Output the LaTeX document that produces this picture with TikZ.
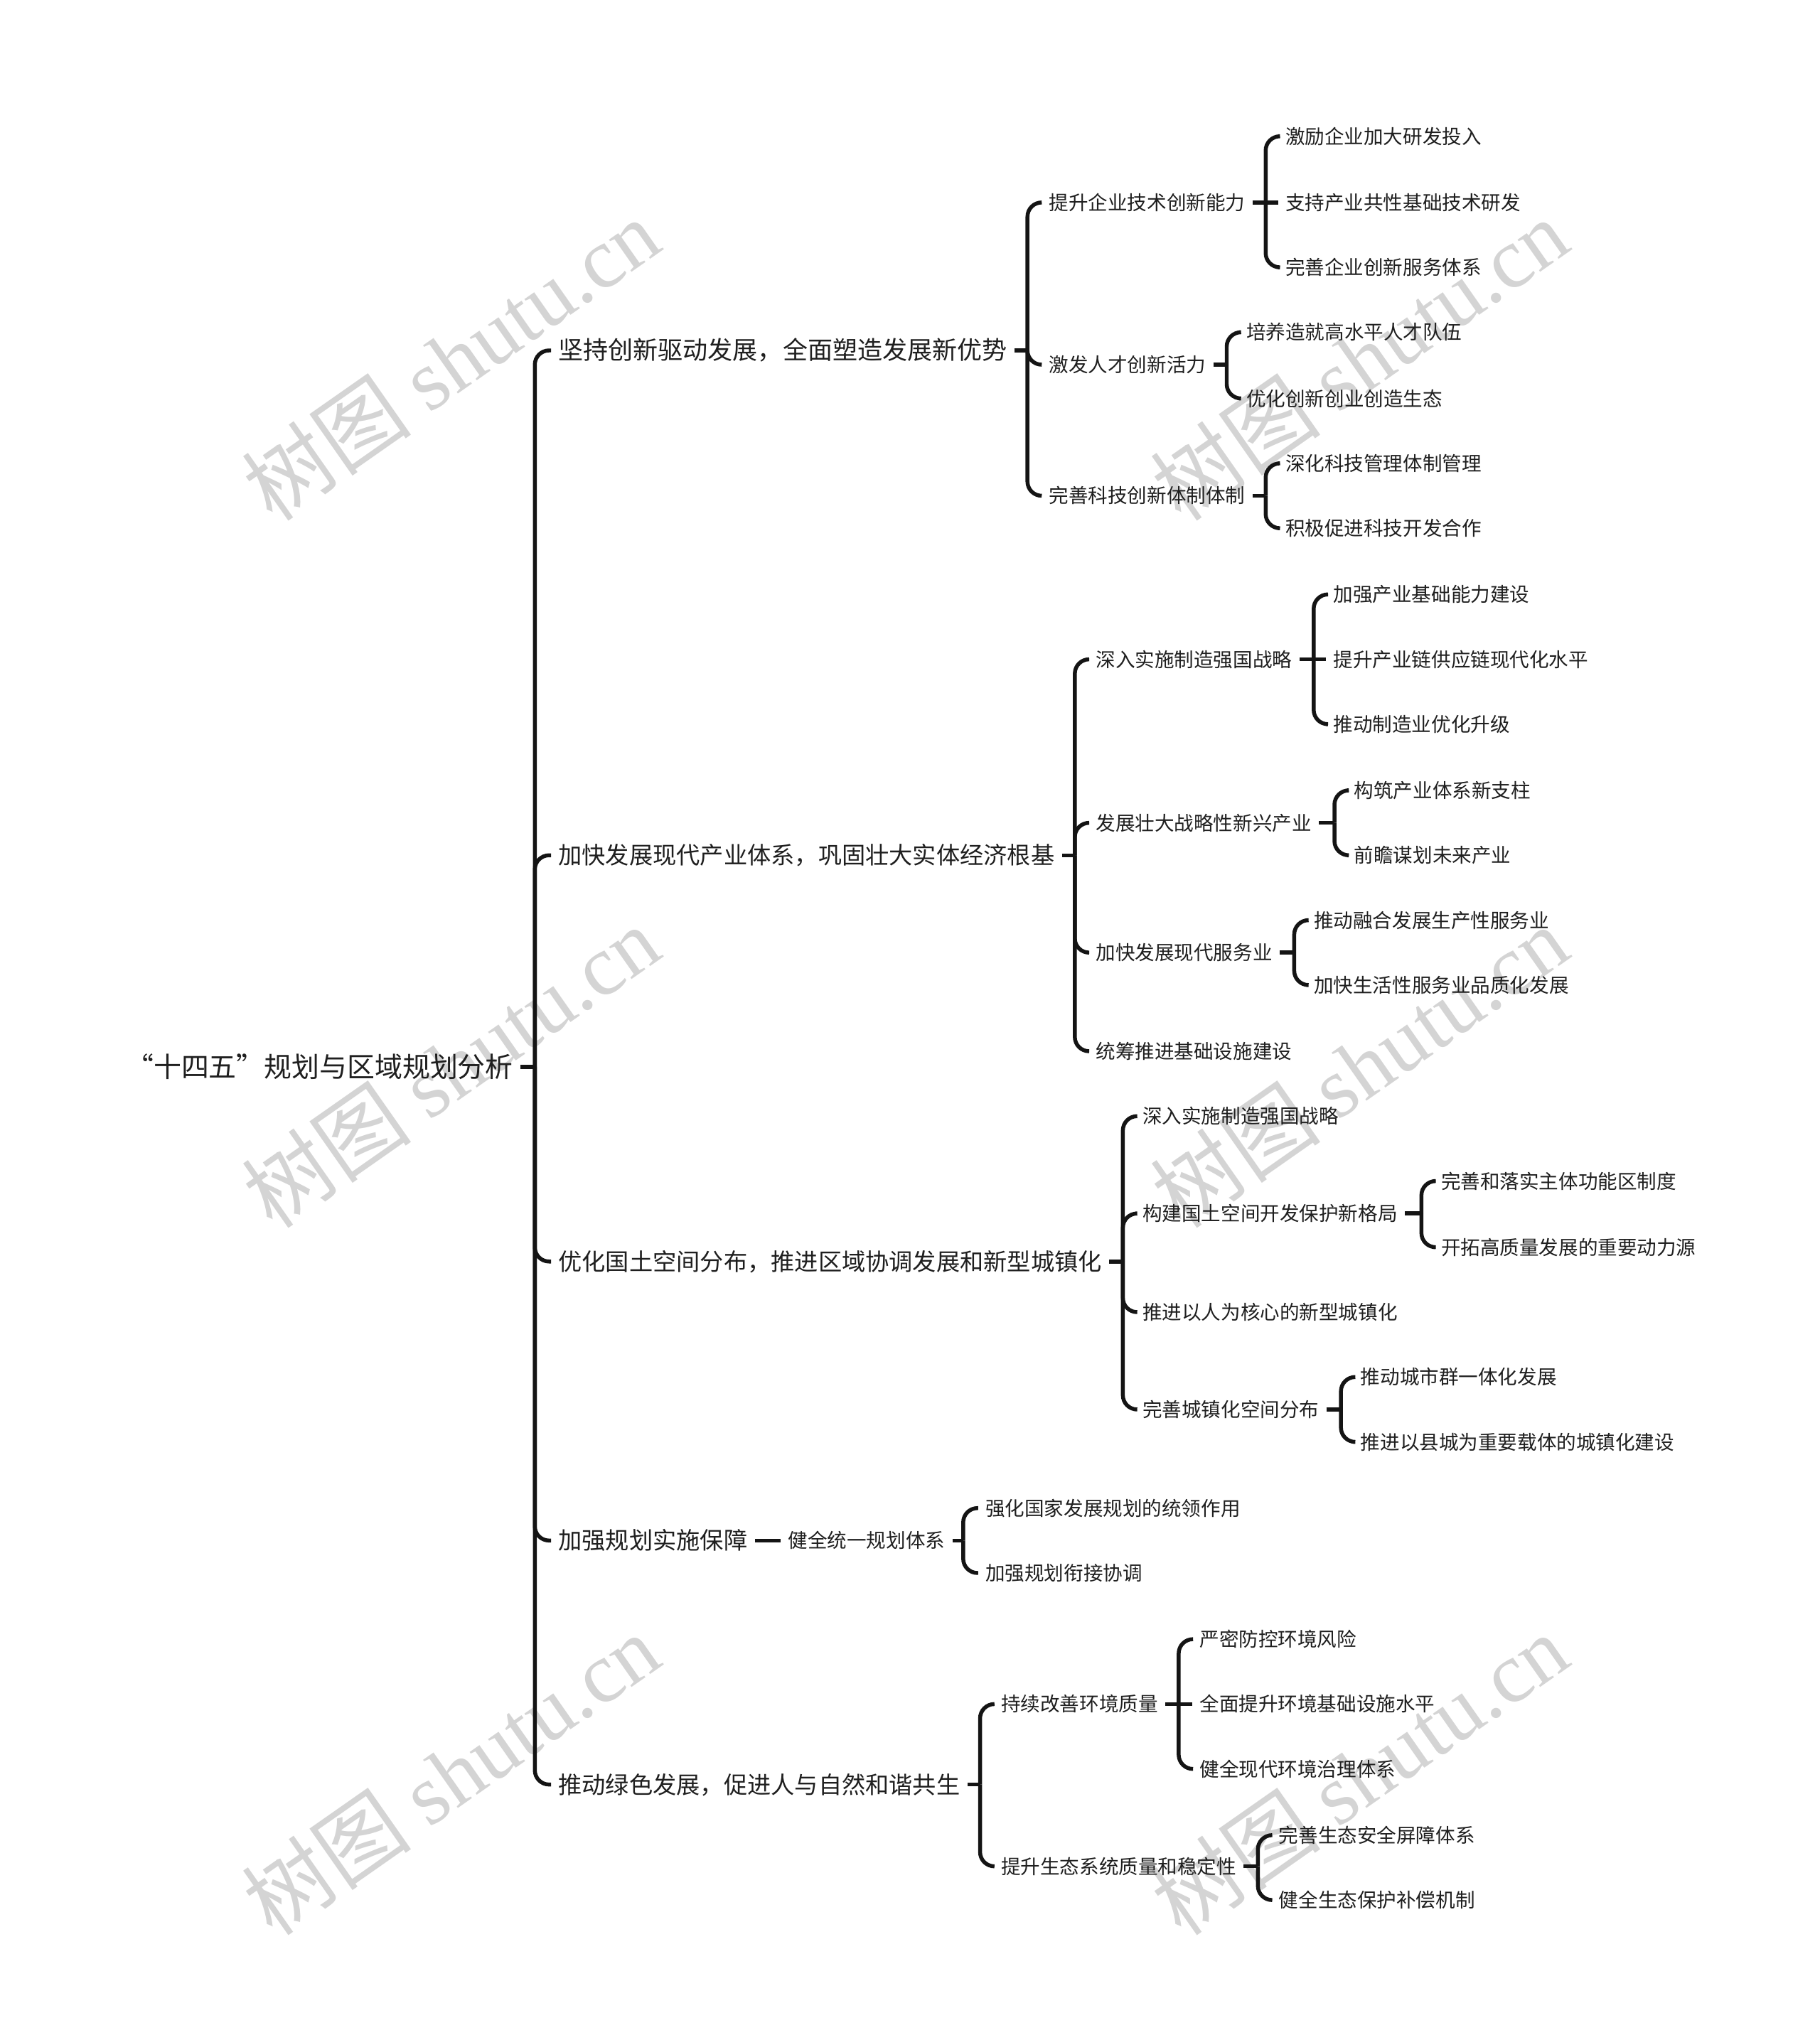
\documentclass[tikz,border=0pt]{standalone}
\usepackage{fontspec}
\setmainfont{Noto Sans CJK SC}
\newfontfamily\wmlat{Liberation Serif}
\begin{document}
\begin{tikzpicture}[x=1pt,y=-1pt,
  txt/.style={anchor=west, inner xsep=5.5pt, inner ysep=0pt, text=black!88},
  lvone/.style={txt, font=\fontsize{18.2}{20}\selectfont, text height=16pt, text depth=2.2pt},
  lvtwo/.style={txt, font=\fontsize{15.1}{17}\selectfont, text height=13.3pt, text depth=1.8pt},
  rootnode/.style={anchor=east, inner xsep=5.5pt, inner ysep=0pt, text=black!88, font=\fontsize{21.3}{23}\selectfont, text height=18.5pt, text depth=2.5pt},
  link/.style={line width=3pt, draw=black!92, rounded corners=11pt},
  wm/.style={text=black!17, font=\fontsize{66}{68}\selectfont, rotate=35, inner sep=0pt}]
\fill[white] (0,0) rectangle (1402,1568);
\useasboundingbox (0,0) rectangle (1402,1568);
% watermarks
\foreach \wx/\wy [count=\i] in {347/277,1047/277,347/822,1047/822,347/1367,1047/1367}
  \node[wm] (wm\i) at (\wx,\wy) {树图 {\wmlat shutu.cn}};
% root
\node[rootnode] (root) at (401,822) {“十四五”规划与区域规划分析};
\coordinate (k0) at (412,822);
\draw[link] (root.east) -- (k0);
% level 1
\node[lvone, font=\fontsize{19.2}{21}\selectfont] (a1) at (424.5,270) {坚持创新驱动发展，全面塑造发展新优势};
\node[lvone] (a2) at (424.5,659) {加快发展现代产业体系，巩固壮大实体经济根基};
\node[lvone] (a3) at (424.5,972) {优化国土空间分布，推进区域协调发展和新型城镇化};
\node[lvone] (a4) at (424.5,1187) {加强规划实施保障};
\node[lvone] (a5) at (424.5,1375) {推动绿色发展，促进人与自然和谐共生};
\foreach \n in {a1,a2,a3,a4,a5} \draw[link] (k0) |- (\n.west);
% branch 1
\coordinate (k1) at (791.5,270);
\draw[link] (a1.east) -- (k1);
\node[lvtwo] (b11) at (802.5,156) {提升企业技术创新能力};
\node[lvtwo] (b12) at (802.5,281) {激发人才创新活力};
\node[lvtwo] (b13) at (802.5,382) {完善科技创新体制体制};
\foreach \n in {b11,b12,b13} \draw[link] (k1) |- (\n.west);
\coordinate (k11) at (975,156);
\draw[link] (b11.east) -- (k11);
\node[lvtwo] (c111) at (984.5,105) {激励企业加大研发投入};
\node[lvtwo] (c112) at (984.5,156) {支持产业共性基础技术研发};
\node[lvtwo] (c113) at (984.5,206) {完善企业创新服务体系};
\draw[link] (k11) |- (c111.west);
\draw[link] (k11) -- (c112.west);
\draw[link] (k11) |- (c113.west);
\coordinate (k12) at (945,281);
\draw[link] (b12.east) -- (k12);
\node[lvtwo] (c121) at (954.5,256) {培养造就高水平人才队伍};
\node[lvtwo] (c122) at (954.5,307) {优化创新创业创造生态};
\draw[link] (k12) |- (c121.west);
\draw[link] (k12) |- (c122.west);
\coordinate (k13) at (975,382);
\draw[link] (b13.east) -- (k13);
\node[lvtwo] (c131) at (984.5,357) {深化科技管理体制管理};
\node[lvtwo] (c132) at (984.5,407) {积极促进科技开发合作};
\draw[link] (k13) |- (c131.west);
\draw[link] (k13) |- (c132.west);
% branch 2
\coordinate (k2) at (828,659);
\draw[link] (a2.east) -- (k2);
\node[lvtwo] (b21) at (838.5,508) {深入实施制造强国战略};
\node[lvtwo] (b22) at (838.5,634) {发展壮大战略性新兴产业};
\node[lvtwo] (b23) at (838.5,734) {加快发展现代服务业};
\node[lvtwo] (b24) at (838.5,810) {统筹推进基础设施建设};
\foreach \n in {b21,b22,b23,b24} \draw[link] (k2) |- (\n.west);
\coordinate (k21) at (1012,508);
\draw[link] (b21.east) -- (k21);
\node[lvtwo] (c211) at (1021.5,458) {加强产业基础能力建设};
\node[lvtwo] (c212) at (1021.5,508) {提升产业链供应链现代化水平};
\node[lvtwo] (c213) at (1021.5,558) {推动制造业优化升级};
\draw[link] (k21) |- (c211.west);
\draw[link] (k21) -- (c212.west);
\draw[link] (k21) |- (c213.west);
\coordinate (k22) at (1028,634);
\draw[link] (b22.east) -- (k22);
\node[lvtwo] (c221) at (1037.5,609) {构筑产业体系新支柱};
\node[lvtwo] (c222) at (1037.5,659) {前瞻谋划未来产业};
\draw[link] (k22) |- (c221.west);
\draw[link] (k22) |- (c222.west);
\coordinate (k23) at (997,734);
\draw[link] (b23.east) -- (k23);
\node[lvtwo] (c231) at (1006.5,709) {推动融合发展生产性服务业};
\node[lvtwo] (c232) at (1006.5,759) {加快生活性服务业品质化发展};
\draw[link] (k23) |- (c231.west);
\draw[link] (k23) |- (c232.west);
% branch 3
\coordinate (k3) at (865,972);
\draw[link] (a3.east) -- (k3);
\node[lvtwo] (b31) at (874.5,860) {深入实施制造强国战略};
\node[lvtwo] (b32) at (874.5,935) {构建国土空间开发保护新格局};
\node[lvtwo] (b33) at (874.5,1011) {推进以人为核心的新型城镇化};
\node[lvtwo] (b34) at (874.5,1086) {完善城镇化空间分布};
\foreach \n in {b31,b32,b33,b34} \draw[link] (k3) |- (\n.west);
\coordinate (k32) at (1095,935);
\draw[link] (b32.east) -- (k32);
\node[lvtwo] (c321) at (1104.5,910) {完善和落实主体功能区制度};
\node[lvtwo] (c322) at (1104.5,961) {开拓高质量发展的重要动力源};
\draw[link] (k32) |- (c321.west);
\draw[link] (k32) |- (c322.west);
\coordinate (k34) at (1033,1086);
\draw[link] (b34.east) -- (k34);
\node[lvtwo] (c341) at (1042.5,1061) {推动城市群一体化发展};
\node[lvtwo] (c342) at (1042.5,1111) {推进以县城为重要载体的城镇化建设};
\draw[link] (k34) |- (c341.west);
\draw[link] (k34) |- (c342.west);
% branch 4
\node[lvtwo] (b41) at (601.5,1187) {健全统一规划体系};
\draw[link] (a4.east) -- (b41.west);
\coordinate (k41) at (742,1187);
\draw[link] (b41.east) -- (k41);
\node[lvtwo] (c411) at (753.5,1162) {强化国家发展规划的统领作用};
\node[lvtwo] (c412) at (753.5,1212) {加强规划衔接协调};
\draw[link] (k41) |- (c411.west);
\draw[link] (k41) |- (c412.west);
% branch 5
\coordinate (k5) at (755,1375);
\draw[link] (a5.east) -- (k5);
\node[lvtwo] (b51) at (765.5,1313) {持续改善环境质量};
\node[lvtwo] (b52) at (765.5,1438) {提升生态系统质量和稳定性};
\draw[link] (k5) |- (b51.west);
\draw[link] (k5) |- (b52.west);
\coordinate (k51) at (908,1313);
\draw[link] (b51.east) -- (k51);
\node[lvtwo] (c511) at (918.5,1263) {严密防控环境风险};
\node[lvtwo] (c512) at (918.5,1313) {全面提升环境基础设施水平};
\node[lvtwo] (c513) at (918.5,1363) {健全现代环境治理体系};
\draw[link] (k51) |- (c511.west);
\draw[link] (k51) -- (c512.west);
\draw[link] (k51) |- (c513.west);
\coordinate (k52) at (969,1438);
\draw[link] (b52.east) -- (k52);
\node[lvtwo] (c521) at (979.5,1414) {完善生态安全屏障体系};
\node[lvtwo] (c522) at (979.5,1464) {健全生态保护补偿机制};
\draw[link] (k52) |- (c521.west);
\draw[link] (k52) |- (c522.west);
\end{tikzpicture}
\end{document}
